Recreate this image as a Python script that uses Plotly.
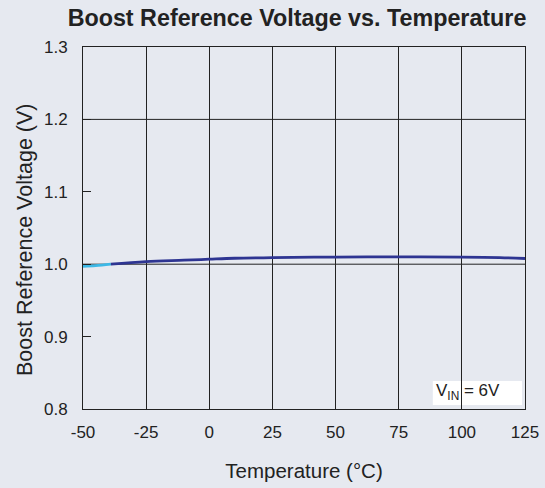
import plotly.graph_objects as go

# data
temp_cold = [-50, -45, -39]
vref_cold = [0.997, 0.998, 1.000]
temp = [-39, -25, -10, 0, 10, 25, 50, 75, 100, 115, 125]
vref = [1.000, 1.0035, 1.0055, 1.0069, 1.0082, 1.009, 1.0099, 1.0100, 1.0099, 1.0092, 1.0079]

x_ticks = [-50, -25, 0, 25, 50, 75, 100, 125]
x_labels = ["-50", "-25", "0", "25", "50", "75", "100", "125"]
y_ticks = [0.8, 0.9, 1.0, 1.1, 1.2, 1.3]
y_labels = ["0.8", "0.9", "1.0", "1.1", "1.2", "1.3"]
y_grid = [1.0, 1.2]

BG = "#e6e9f0"
W, H = 545, 488
L, R, T, B = 83, 20, 47, 79
pw, ph = W - L - R, H - T - B

fig = go.Figure()
fig.add_trace(go.Scatter(x=temp, y=vref, mode="lines", line=dict(color="#2e3592", width=2.8, shape="spline"),
                         showlegend=False, hoverinfo="skip"))
fig.add_trace(go.Scatter(x=temp_cold, y=vref_cold, mode="lines", line=dict(color="#3cb8e6", width=2.8, shape="spline"),
                         showlegend=False, hoverinfo="skip"))

font = "Liberation Sans, Arial, sans-serif"

shapes = []
for g in y_grid:
    shapes.append(dict(type="line", xref="paper", x0=0, x1=1, yref="y", y0=g, y1=g,
                       line=dict(color="#222", width=1), layer="below"))
# white label box behind gridlines
shapes.append(dict(type="rect", xref="x", yref="y", x0=88.5, x1=123.8, y0=0.8055, y1=0.8387,
                   fillcolor="white", line=dict(width=0), layer="below"))

annotations = [
    dict(text="V<sub>IN</sub> = 6V", xref="x", yref="y", x=89, y=0.823, xanchor="left",
         yanchor="middle", showarrow=False, font=dict(family=font, size=17, color="#222")),
    dict(text="Boost Reference Voltage (V)", xref="paper", yref="paper", x=(25 - L) / pw, y=(H - B - 240) / ph,
         xanchor="center", yanchor="middle", textangle=-90, showarrow=False,
         font=dict(family=font, size=21.5, color="#222")),
]

fig.update_layout(
    width=W, height=H,
    margin=dict(l=L, r=R, t=T, b=B, autoexpand=False),
    paper_bgcolor=BG, plot_bgcolor=BG,
    title=dict(text="<b>Boost Reference Voltage vs. Temperature</b>", x=297 / W, xanchor="center",
               y=1 - 18 / H, yanchor="middle", font=dict(family=font, size=23.3, color="#222")),
    xaxis=dict(range=[-50, 125], tickvals=x_ticks, ticktext=x_labels, showgrid=True, gridcolor="#222",
               gridwidth=1, zeroline=False, showline=True, linecolor="#222", linewidth=1, mirror=True,
               ticks="", tickfont=dict(family=font, size=17, color="#222"), ticklabelstandoff=8,
               title=dict(text="Temperature (°C)", font=dict(family=font, size=20.5, color="#222"), standoff=22)),
    yaxis=dict(range=[0.8, 1.3], tickvals=y_ticks, ticktext=y_labels, showgrid=False, zeroline=False,
               showline=True, linecolor="#222", linewidth=1, mirror=True, ticks="inside", ticklen=8,
               tickcolor="#222", tickfont=dict(family=font, size=17, color="#222"), ticklabelstandoff=11),
    shapes=shapes,
    annotations=annotations,
)

fig.write_html("out.html", config={"displayModeBar": False},
               post_script="document.body.style.margin='0';")
